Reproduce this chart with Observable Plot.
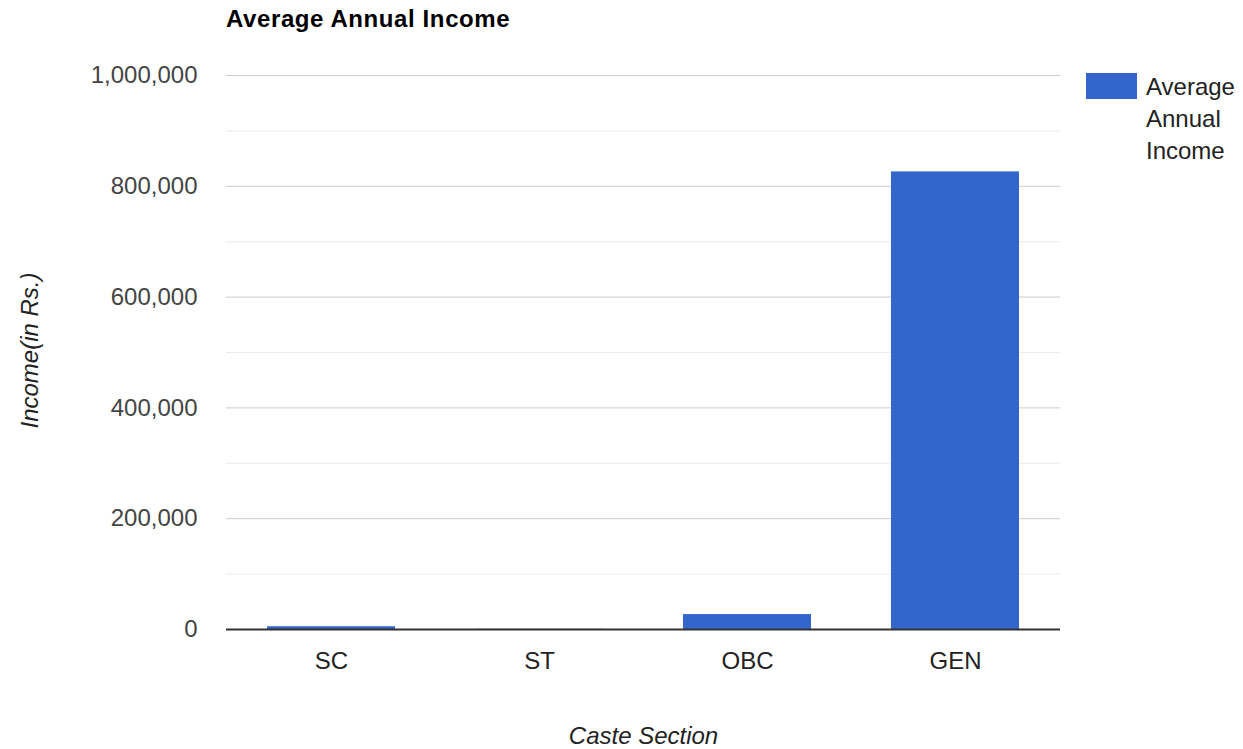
<!DOCTYPE html>
<html>
<head>
<meta charset="utf-8">
<script src="https://cdn.jsdelivr.net/npm/d3@7"></script>
<script src="https://cdn.jsdelivr.net/npm/@observablehq/plot@0.6"></script>
<style>
  body { margin: 0; background: #fff; font-family: "Liberation Sans", Arial, sans-serif; }
  #wrap { position: relative; width: 1243px; height: 749px; }
  #title { position: absolute; left: 226px; top: 5px; font-size: 24px; font-weight: bold; color: #000; letter-spacing: 0.6px; }
  #legend { position: absolute; left: 1086px; top: 73px; display: flex; align-items: flex-start; }
  #legend .sw { width: 51px; height: 26px; background: #3366cc; }
  #legend .lbl { margin-left: 9px; font-size: 24px; line-height: 32px; color: #222; margin-top: -2px; }
  svg { position: absolute; left: 0; top: 0; }
</style>
</head>
<body>
<div id="wrap">
  <div id="chart"></div>
  <div id="title">Average Annual Income</div>
  <div id="legend"><div class="sw"></div><div class="lbl">Average<br>Annual<br>Income</div></div>
</div>
<script>
const categories = ["SC", "ST", "OBC", "GEN"];
const values = [5000, 300, 27000, 826000];
const majorTicks = [0, 200000, 400000, 600000, 800000, 1000000];
const minorTicks = [100000, 300000, 500000, 700000, 900000];
const seriesName = "Average Annual Income";
const xLabel = "Caste Section";
const yLabel = "Income(in Rs.)";

const data = categories.map((c, i) => ({cat: c, value: values[i]}));

const chart = Plot.plot({
  width: 1243,
  height: 749,
  marginLeft: 226,
  marginRight: 183,
  marginTop: 75,
  marginBottom: 120,
  style: {fontFamily: "'Liberation Sans', Arial, sans-serif", fontSize: "24px", color: "#444", background: "transparent"},
  x: {domain: categories, paddingInner: 0.385, paddingOuter: 0.192, label: null},
  y: {domain: [0, 1000000], label: null},
  marks: [
    Plot.ruleY(minorTicks, {stroke: "#ebebeb", strokeWidth: 1}),
    Plot.ruleY(majorTicks.filter(d => d > 0), {stroke: "#cccccc", strokeWidth: 1}),
    Plot.barY(data, {x: "cat", y: "value", fill: "#3366cc"}),
    Plot.ruleY([0], {stroke: "#333333", strokeWidth: 2}),
    Plot.axisY(majorTicks, {tickSize: 0, tickPadding: 29, tickFormat: d3.format(","), label: null, fontSize: 24, fill: "#444"}),
    Plot.axisX({tickSize: 0, tickPadding: 22, label: null, fontSize: 24, fill: "#222"}),
    Plot.text([yLabel], {frameAnchor: "left", textAnchor: "middle", lineAnchor: "middle", dx: -196, dy: -2, rotate: -90, fontStyle: "italic", fontSize: 24, fill: "#222"}),
    Plot.text([xLabel], {frameAnchor: "bottom", textAnchor: "middle", lineAnchor: "middle", dy: 107, fontStyle: "italic", fontSize: 24, fill: "#222"})
  ]
});
document.getElementById("chart").appendChild(chart);
</script>
</body>
</html>
